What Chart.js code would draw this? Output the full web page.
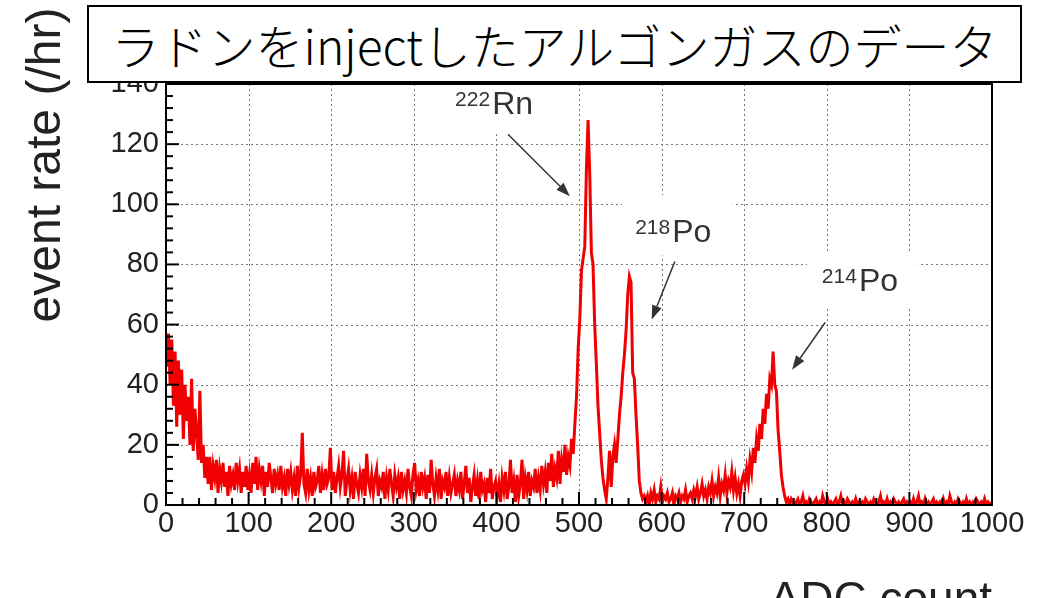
<!DOCTYPE html>
<html><head><meta charset="utf-8">
<script src="https://cdn.jsdelivr.net/npm/chart.js@4.4.0/dist/chart.umd.min.js"></script>
<style>
html,body{margin:0;padding:0;background:#fff;overflow:hidden;width:1050px;height:598px;}
#wrap{position:relative;width:1050px;height:598px;overflow:hidden;}
#c{position:absolute;left:0;top:0;}
#title{position:absolute;left:87px;top:5px;width:931px;height:74px;border:2px solid #000;background:#fff;
 font-family:"Noto Sans CJK JP";font-weight:300;font-size:48px;line-height:74px;text-align:center;white-space:nowrap;color:#000;}
#ytitle{position:absolute;left:-121px;top:135px;width:330px;height:60px;line-height:60px;text-align:center;
 transform:rotate(-90deg);font-family:"Liberation Sans";font-size:48px;color:#222;white-space:nowrap;}
#xtitle{position:absolute;right:58px;top:573px;height:50px;line-height:50px;font-family:"Liberation Sans";
 font-size:46px;color:#222;white-space:nowrap;}
</style></head>
<body><div id="wrap">
<canvas id="c" width="1050" height="598"></canvas>
<div id="title">ラドンをinjectしたアルゴンガスのデータ</div>
<div id="ytitle">event rate (/hr)</div>
<div id="xtitle">ADC count</div>
</div>
<script>
// ---- data (event rate per 2-ADC-count bin) ----
const binWidth = 2;
const rate0to100 = [46,57,40,55,33,51,26,48,30,45,22,40,28,36,20,42,18,32,24,15,38,14,20,9,16,
 7,16,5,13,9,15,4,12,8,14,6,11,3,13,7,10,5,14,8,12,4,11,6,13,5];
const rate100to200 = [10,4,14,7,16,5,12,8,13,3,11,6,14,9,4,12,7,10,5,13,6,9,3,12,7,
 11,5,9,3,13,6,10,24,7,4,12,5,9,3,11,6,8,13,4,10,5,12,7,9,19];
const rate200to300 = [5,11,4,9,13,6,10,18,3,8,12,5,9,2,11,7,4,10,6,12,3,17,8,5,10,
 4,9,12,3,8,6,11,2,9,5,12,7,3,10,6,9,2,11,5,8,4,12,6,3,10];
const rate300to400 = [14,5,8,3,11,6,9,2,10,4,15,7,3,9,5,12,2,8,6,11,3,9,4,7,10,
 3,8,5,11,2,7,13,4,9,1,6,10,3,8,2,11,5,7,1,9,4,12,2,6,8];
const rate400to490 = [3,7,1,9,5,11,2,6,15,4,8,1,10,3,7,15,2,9,5,11,3,8,6,12,4,
 9,5,13,7,11,4,14,8,17,6,12,9,18,7,15,11,20,10,16,13];
const rateRnPo218 = [22,17,27,36,52,62,78,82,86,112,128,110,84,80,60,47,33,24,15,9,5,2,9,18,6,16,20,14,22,30,
 36,44,50,58,70,76,74,44,42,30,20,8,4,2,3];
const rate580to700 = [1,3,0,4,2,5,1,3,2,6,1,3,2,4,1,2,4,0,3,2,4,1,3,2,5,1,3,4,2,5,
 3,6,2,4,7,3,5,2,6,4,8,3,6,4,9,3,7,5,10,4,8,6,11,5,9,4,7,3,8,10];
const ratePo214 = [7,12,8,15,11,19,14,22,18,27,22,32,27,37,32,42,40,51,40,38,25,18,10,6,3,1,2,0,2,1];
const rate760to1000 = [0,1,2,0,1,3,0,1,0,2, 1,0,1,2,0,1,0,3,1,0, 2,0,1,0,1,2,0,1,3,0, 1,0,2,1,0,1,0,2,0,1,
 0,1,0,2,1,0,1,0,2,1, 0,1,3,0,1,0,2,0,1,0, 2,1,0,1,0,1,2,0,1,0, 1,0,2,0,1,3,0,1,0,2,
 0,1,0,1,2,0,1,0,1,0, 2,0,1,0,3,1,0,1,0,2, 1,0,1,0,2,0,1,0,1,0, 2,1,0,1,0,2,0,1,0,1];

const xTickLabels = [0,100,200,300,400,500,600,700,800,900,1000];
const yTickLabels = [0,20,40,60,80,100,120,140];

// annotations: mass number, symbol, label anchor (ADC,value), arrow from/to (ADC,value), white label box
const isotopeLabels = ['222','218','214'];
const isotopeSymbols = ['Rn','Po','Po'];
const labelPos = [[350,130],[568,87.3],[794,71]];
const arrowFrom = [[414,123.3],[616,81],[798,60.7]];
const arrowTo = [[489,102.7],[588,61.7],[758,45]];
const labelBoxes = [[335,470,124,140],[552,686,83,103],[776,910,66,84]];

const eventRate = [].concat(rate0to100, rate100to200, rate200to300, rate300to400, rate400to490,
  rateRnPo218, rate580to700, ratePo214, rate760to1000);
const points = eventRate.map((v,i)=>({x: i*binWidth + binWidth/2, y: v}));

const xMin = xTickLabels[0], xMax = xTickLabels[xTickLabels.length-1];
const yMin = yTickLabels[0], yMax = yTickLabels[yTickLabels.length-1];

function line(ctx,x1,y1,x2,y2){ctx.beginPath();ctx.moveTo(x1,y1);ctx.lineTo(x2,y2);ctx.stroke();}

const rootStyle = {
  id:'rootStyle',
  beforeDatasetsDraw(chart){
    const {ctx, chartArea:{left,right,top,bottom}, scales:{x,y}} = chart;
    ctx.save();
    ctx.strokeStyle='#777'; ctx.lineWidth=1; ctx.setLineDash([2,3]);
    xTickLabels.forEach(v=>{ if(v<=xMin||v>=xMax) return; const p=Math.round(x.getPixelForValue(v))+0.5; line(ctx,p,top,p,bottom); });
    yTickLabels.forEach(v=>{ if(v<=yMin||v>=yMax) return; const p=Math.round(y.getPixelForValue(v))+0.5; line(ctx,left,p,right,p); });
    ctx.setLineDash([]);
    ctx.fillStyle='#fff';
    labelBoxes.forEach(b=>{
      const x1=x.getPixelForValue(b[0]), x2=x.getPixelForValue(b[1]);
      const y1=Math.max(y.getPixelForValue(b[3]),top+1), y2=y.getPixelForValue(b[2]);
      ctx.fillRect(x1,y1,x2-x1,y2-y1);
    });
    ctx.restore();
  },
  afterDatasetsDraw(chart){
    const {ctx, chartArea:{left,right,top,bottom}, scales:{x,y}} = chart;
    ctx.save();
    ctx.strokeStyle='#000'; ctx.lineWidth=2;
    for(let v=xMin; v<=xMax; v+=20){
      const p=x.getPixelForValue(v); const len = (v%100===0)?13:7;
      line(ctx,p,bottom,p,bottom-len);
    }
    for(let v=yMin; v<=yMax; v+=4){
      const p=y.getPixelForValue(v); const len = (v%20===0)?13:7;
      line(ctx,left,p,left+len,p);
    }
    ctx.strokeRect(left,top,right-left,bottom-top);
    ctx.fillStyle='#333'; ctx.strokeStyle='#333'; ctx.lineWidth=1.5;
    ctx.textBaseline='alphabetic'; ctx.textAlign='left';
    for(let i=0;i<isotopeLabels.length;i++){
      const lx=x.getPixelForValue(labelPos[i][0]), ly=y.getPixelForValue(labelPos[i][1]);
      ctx.font='21px "Liberation Sans"';
      ctx.fillText(isotopeLabels[i], lx, ly-8);
      const w=ctx.measureText(isotopeLabels[i]).width;
      ctx.font='32px "Liberation Sans"';
      ctx.fillText(isotopeSymbols[i], lx+w+2, ly);
      const ax=x.getPixelForValue(arrowFrom[i][0]), ay=y.getPixelForValue(arrowFrom[i][1]);
      const bx=x.getPixelForValue(arrowTo[i][0]), by=y.getPixelForValue(arrowTo[i][1]);
      const ang=Math.atan2(by-ay,bx-ax), hl=14, hw=5;
      const sx=bx-hl*Math.cos(ang), sy=by-hl*Math.sin(ang);
      line(ctx,ax,ay,sx,sy);
      ctx.beginPath();
      ctx.moveTo(bx,by);
      ctx.lineTo(sx+hw*Math.sin(ang), sy-hw*Math.cos(ang));
      ctx.lineTo(sx-hw*Math.sin(ang), sy+hw*Math.cos(ang));
      ctx.closePath(); ctx.fill();
    }
    ctx.restore();
  }
};

new Chart(document.getElementById('c'), {
  type:'line',
  data:{datasets:[{data:points, borderColor:'#f00000', borderWidth:3, pointRadius:0, tension:0, fill:false}]},
  options:{
    responsive:false, animation:false, devicePixelRatio:1,
    layout:{padding:{left:0,top:84,right:58,bottom:0}},
    plugins:{legend:{display:false}, tooltip:{enabled:false}, title:{display:false}},
    scales:{
      x:{type:'linear', min:xMin, max:xMax,
         afterFit(s){s.height=93;},
         afterBuildTicks(s){s.ticks=xTickLabels.map(v=>({value:v}));},
         ticks:{font:{family:'Liberation Sans', size:29, lineHeight:1.2}, color:'#222', padding:2, maxRotation:0, autoSkip:false,
                callback:(v)=>String(v)},
         grid:{display:false, drawTicks:false}, border:{display:false}},
      y:{type:'linear', min:yMin, max:yMax,
         afterFit(s){s.width=166;},
         afterBuildTicks(s){s.ticks=yTickLabels.map(v=>({value:v}));},
         ticks:{font:{family:'Liberation Sans', size:29, lineHeight:1.2}, color:'#222', padding:7,
                callback:(v)=>String(v)},
         grid:{display:false, drawTicks:false}, border:{display:false}}
    }
  },
  plugins:[rootStyle]
});
</script>
</body></html>
